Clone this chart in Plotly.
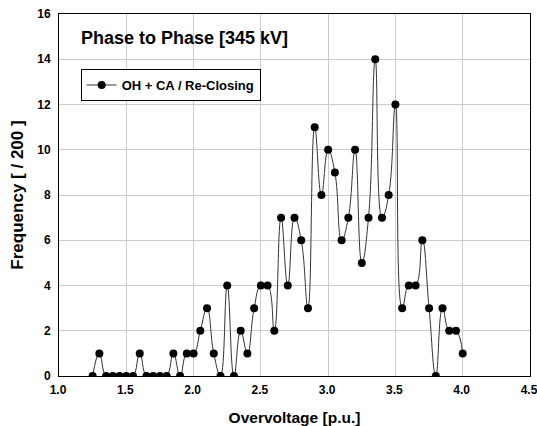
import plotly.graph_objects as go

overvoltage = [1.25, 1.30, 1.35, 1.40, 1.45, 1.50, 1.55, 1.60, 1.65, 1.70, 1.75, 1.80,
               1.85, 1.90, 1.95, 2.00, 2.05, 2.10, 2.15, 2.20, 2.25, 2.30, 2.35, 2.40,
               2.45, 2.50, 2.55, 2.60, 2.65, 2.70, 2.75, 2.80, 2.85, 2.90, 2.95, 3.00,
               3.05, 3.10, 3.15, 3.20, 3.25, 3.30, 3.35, 3.40, 3.45, 3.50, 3.55, 3.60,
               3.65, 3.70, 3.75, 3.80, 3.85, 3.90, 3.95, 4.00]
frequency = [0, 1, 0, 0, 0, 0, 0, 1, 0, 0, 0, 0,
             1, 0, 1, 1, 2, 3, 1, 0, 4, 0, 2, 1,
             3, 4, 4, 2, 7, 4, 7, 6, 3, 11, 8, 10,
             9, 6, 7, 10, 5, 7, 14, 7, 8, 12, 3, 4,
             4, 6, 3, 0, 3, 2, 2, 1]

series_name = "OH + CA / Re-Closing"
chart_title = "Phase to Phase [345 kV]"
x_title = "Overvoltage [p.u.]"
y_title = "Frequency [ / 200 ]"

FONT = "Liberation Sans, Arial, sans-serif"

fig = go.Figure()
fig.add_trace(go.Scatter(
    x=overvoltage, y=frequency, mode="lines+markers", name=series_name,
    line=dict(color="#333333", width=1, shape="spline", smoothing=1.3),
    marker=dict(color="black", size=8, symbol="circle"),
))

fig.add_annotation(
    text="<b>" + chart_title + "</b>", xref="paper", yref="paper",
    x=0.042, y=0.935, xanchor="left", yanchor="middle", showarrow=False,
    font=dict(family=FONT, size=18, color="black"),
)

fig.update_layout(
    width=537, height=426,
    margin=dict(l=59, r=7, t=14, b=50),
    paper_bgcolor="white", plot_bgcolor="white",
    font=dict(family=FONT, size=12, color="black"),
    showlegend=True,
    legend=dict(
        x=0.046, y=0.848, xanchor="left", yanchor="top",
        bordercolor="black", borderwidth=1, bgcolor="white",
        font=dict(family=FONT, size=13, color="black", weight="bold"),
        itemwidth=30,
    ),
)
fig.update_xaxes(
    range=[1.0, 4.5], dtick=0.5, tick0=1.0, tickformat=".1f",
    showgrid=True, gridcolor="#cccccc", gridwidth=1,
    showline=True, linecolor="black", linewidth=1, mirror=True,
    ticks="", zeroline=False, automargin=False, ticklabelstandoff=3,
    ticklabeloverflow="allow", ticklabelshift=-1,
    tickfont=dict(family=FONT, size=12, color="black", weight="bold"),
    title=dict(text="<b>" + x_title + "</b>", font=dict(family=FONT, size=15.5, color="black")),
)
fig.update_yaxes(
    range=[0, 16], dtick=2, tick0=0,
    showgrid=True, gridcolor="#cccccc", gridwidth=1,
    showline=True, linecolor="black", linewidth=1, mirror=True,
    ticks="", zeroline=False, automargin=False, ticklabelstandoff=5,
    ticklabeloverflow="allow",
    tickfont=dict(family=FONT, size=12, color="black", weight="bold"),
    title=dict(text="<b>" + y_title + "</b>", standoff=9,
               font=dict(family=FONT, size=17, color="black")),
)

# remove the browser's default 8px body margin so the 537x426 figure fills the window exactly
fig.write_html(
    "out.html",
    config={"displayModeBar": False},
    post_script="document.body.style.margin='0';document.body.style.overflow='hidden';",
)
